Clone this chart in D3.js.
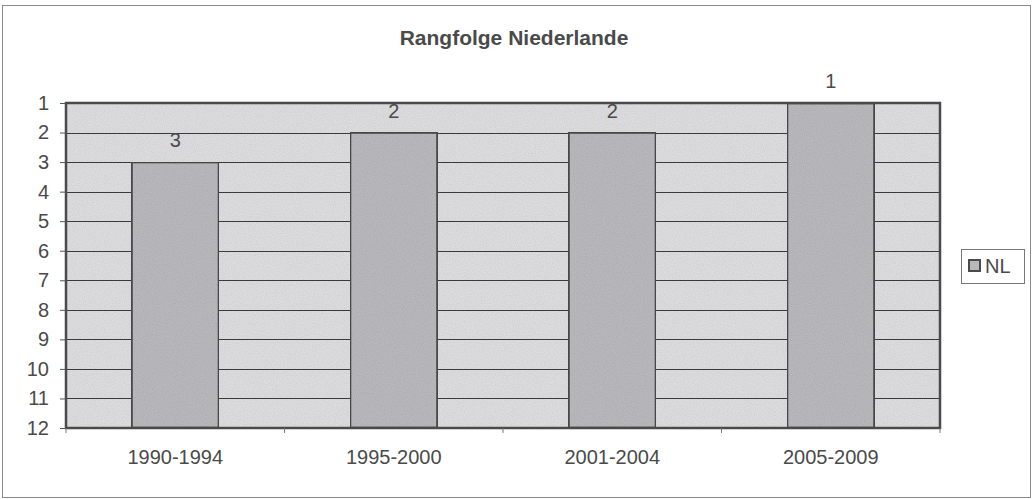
<!DOCTYPE html>
<html>
<head>
<meta charset="utf-8">
<script src="https://cdn.jsdelivr.net/npm/d3@7"></script>
<style>
  body { margin: 0; background: #fff; }
  text { font-family: "Liberation Sans", Arial, sans-serif; fill: #4a4a4a; }
</style>
</head>
<body>
<script>
var categories = ["1990-1994", "1995-2000", "2001-2004", "2005-2009"];
var ranks = [3, 2, 2, 1];
var rankTicks = [1, 2, 3, 4, 5, 6, 7, 8, 9, 10, 11, 12];
var seriesName = "NL";
var title = "Rangfolge Niederlande";

var W = 1032, H = 499;
var plotL = 66, plotR = 940, plotT = 103, plotB = 428;

var svg = d3.select("body").append("svg")
	.attr("width", W)
	.attr("height", H);

// speckled print look
var defs = svg.append("defs");
var f = defs.append("filter").attr("id", "grain").attr("x", 0).attr("y", 0).attr("width", 1).attr("height", 1);
f.append("feTurbulence").attr("type", "fractalNoise").attr("baseFrequency", 0.9).attr("numOctaves", 1).attr("seed", 3).attr("result", "n");
f.append("feColorMatrix").attr("in", "n").attr("type", "matrix")
	.attr("values", "0 0 0 0 0  0 0 0 0 0  0 0 0 0 0  0 0 0 0.3 -0.12")
	.attr("result", "a");
f.append("feComposite").attr("in", "a").attr("in2", "SourceGraphic").attr("operator", "in").attr("result", "b");
f.append("feMerge").selectAll("feMergeNode").data(["SourceGraphic", "b"]).enter()
	.append("feMergeNode").attr("in", d => d);

// outer frame
svg.append("rect")
	.attr("x", 2.5).attr("y", 5.5)
	.attr("width", 1028).attr("height", 492)
	.attr("fill", "#fff")
	.attr("stroke", "#8a8a8a")
	.attr("stroke-width", 1);

svg.append("text")
	.attr("x", 514).attr("y", 45)
	.attr("text-anchor", "middle")
	.attr("font-size", "21px")
	.attr("font-weight", "bold")
	.text(title);

var x = d3.scaleBand().domain(categories).range([plotL, plotR]).paddingInner(0.6).paddingOuter(0.3);
var xCat = d3.scaleBand().domain(categories).range([plotL, plotR]);
var y = d3.scaleLinear().domain([1, 12]).range([plotT, plotB]);

// plot area
svg.append("rect")
	.attr("x", plotL).attr("y", plotT)
	.attr("width", plotR - plotL).attr("height", plotB - plotT)
	.attr("fill", "#dcdcde")
	.attr("filter", "url(#grain)");

svg.append("g").selectAll("line").data(rankTicks.slice(1, -1)).enter()
	.append("line")
	.attr("x1", plotL).attr("x2", plotR)
	.attr("y1", d => Math.round(y(d)) + 0.5).attr("y2", d => Math.round(y(d)) + 0.5)
	.attr("stroke", "#3a3a3a")
	.attr("stroke-width", 1);

svg.append("g").selectAll("rect").data(ranks).enter()
	.append("rect")
	.attr("x", (d, i) => x(categories[i]))
	.attr("y", d => y(d))
	.attr("width", x.bandwidth())
	.attr("height", d => y(12) - y(d))
	.attr("fill", "#b8b8bb")
	.attr("stroke", "#4a4a4a")
	.attr("stroke-width", 2.5)
	.attr("filter", "url(#grain)");

svg.append("rect")
	.attr("x", plotL).attr("y", plotT)
	.attr("width", plotR - plotL).attr("height", plotB - plotT)
	.attr("fill", "none")
	.attr("stroke", "#4a4a4a")
	.attr("stroke-width", 2.5);

svg.append("g").selectAll("text").data(ranks).enter()
	.append("text")
	.attr("x", (d, i) => x(categories[i]) + x.bandwidth() / 2)
	.attr("y", d => y(d) - 15)
	.attr("text-anchor", "middle")
	.attr("font-size", "20px")
	.text(d => d);

// y axis
var yAxis = svg.append("g")
	.attr("transform", "translate(" + plotL + ",0)")
	.call(d3.axisLeft(y).tickValues(rankTicks).tickSize(6).tickPadding(11).tickFormat(d3.format("d")));
yAxis.select(".domain").remove();
yAxis.selectAll("line").attr("stroke", "#555");
yAxis.selectAll("text").attr("font-size", "20px").attr("fill", "#4a4a4a").style("font-family", "Liberation Sans, Arial, sans-serif");

// x axis
var xAxis = svg.append("g")
	.attr("transform", "translate(0," + plotB + ")")
	.call(d3.axisBottom(xCat).tickSize(0).tickPadding(22));
xAxis.select(".domain").remove();
xAxis.selectAll("text").attr("font-size", "20px").attr("fill", "#4a4a4a").style("font-family", "Liberation Sans, Arial, sans-serif");
svg.append("g").selectAll("line").data(categories.concat([null])).enter()
	.append("line")
	.attr("x1", (d, i) => plotL + i * xCat.bandwidth())
	.attr("x2", (d, i) => plotL + i * xCat.bandwidth())
	.attr("y1", plotB).attr("y2", plotB + 5)
	.attr("stroke", "#777");

// legend
var lg = svg.append("g").attr("transform", "translate(961,249)");
lg.append("rect").attr("x", 0.5).attr("y", 0.5).attr("width", 63).attr("height", 34)
	.attr("fill", "#fff").attr("stroke", "#777");
lg.append("rect").attr("x", 8).attr("y", 11).attr("width", 11).attr("height", 11)
	.attr("fill", "#b8b8bb").attr("stroke", "#4a4a4a").attr("stroke-width", 2);
lg.append("text").attr("x", 24).attr("y", 24).attr("font-size", "20px").text(seriesName);
</script>
</body>
</html>
